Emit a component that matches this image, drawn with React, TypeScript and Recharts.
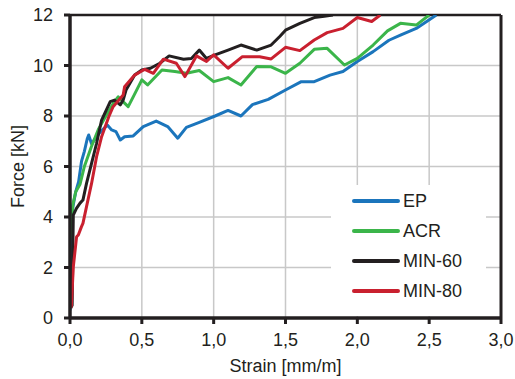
import { LineChart, Line, XAxis, YAxis, CartesianGrid, ReferenceLine } from "recharts";

const epStrain = [0, 0.005, 0.02, 0.04, 0.06, 0.08, 0.1, 0.12, 0.13, 0.15, 0.2, 0.26, 0.29, 0.32, 0.35, 0.38, 0.44, 0.51, 0.6, 0.68, 0.75, 0.81, 0.9, 1.01, 1.1, 1.19, 1.27, 1.38, 1.5, 1.61, 1.7, 1.81, 1.9, 2.0, 2.11, 2.22, 2.3, 2.41, 2.55];
const epForce = [0.3, 3.1, 4.4, 5.0, 5.4, 6.2, 6.6, 7.1, 7.25, 6.9, 7.3, 7.64, 7.45, 7.38, 7.05, 7.18, 7.21, 7.58, 7.8, 7.58, 7.12, 7.55, 7.75, 8.0, 8.22, 8.0, 8.45, 8.66, 9.03, 9.36, 9.36, 9.62, 9.76, 10.16, 10.55, 11.0, 11.2, 11.47, 12];

const acrStrain = [0, 0.02, 0.04, 0.07, 0.1, 0.15, 0.2, 0.25, 0.3, 0.335, 0.405, 0.44, 0.5, 0.54, 0.64, 0.73, 0.81, 0.9, 1.0, 1.1, 1.19, 1.3, 1.4, 1.5, 1.6, 1.7, 1.79, 1.91, 2.0, 2.11, 2.21, 2.3, 2.41, 2.5];
const acrForce = [3.1, 4.5, 5.0, 5.3, 6.0, 6.8, 7.5, 8.0, 8.5, 8.76, 8.37, 8.76, 9.43, 9.23, 9.82, 9.76, 9.69, 9.8, 9.36, 9.52, 9.23, 9.96, 9.95, 9.69, 10.09, 10.64, 10.68, 10.02, 10.28, 10.81, 11.37, 11.67, 11.6, 12];

const min60Strain = [0.005, 0.015, 0.023, 0.045, 0.07, 0.09, 0.115, 0.15, 0.185, 0.22, 0.28, 0.31, 0.35, 0.37, 0.39, 0.45, 0.5, 0.56, 0.625, 0.69, 0.79, 0.845, 0.9, 0.95, 1.01, 1.1, 1.19, 1.3, 1.4, 1.46, 1.5, 1.6, 1.7, 1.77, 1.83];
const min60Force = [0.4, 0.5, 4.08, 4.34, 4.55, 4.67, 5.33, 6.12, 6.92, 7.84, 8.57, 8.63, 8.44, 8.63, 9.03, 9.62, 9.82, 9.89, 10.09, 10.38, 10.25, 10.28, 10.61, 10.28, 10.42, 10.61, 10.81, 10.61, 10.81, 11.15, 11.4, 11.67, 11.9, 11.95, 12];

const min80Strain = [0.005, 0.01, 0.023, 0.046, 0.058, 0.08, 0.09, 0.115, 0.15, 0.185, 0.22, 0.27, 0.3, 0.37, 0.38, 0.45, 0.52, 0.58, 0.65, 0.74, 0.8, 0.88, 0.95, 1.0, 1.1, 1.2, 1.32, 1.4, 1.5, 1.6, 1.7, 1.79, 1.9, 2.0, 2.1, 2.16];
const min80Force = [0.4, 0.5, 2.03, 3.22, 3.29, 3.62, 3.75, 4.41, 5.33, 6.39, 7.18, 7.97, 8.37, 8.83, 9.16, 9.62, 9.85, 9.69, 10.25, 10.09, 9.56, 10.38, 10.16, 10.42, 9.89, 10.35, 10.35, 10.26, 10.72, 10.59, 11.01, 11.3, 11.47, 11.9, 11.74, 12];

const xTicks = [0, 0.5, 1, 1.5, 2, 2.5, 3];
const yTicks = [0, 2, 4, 6, 8, 10, 12];

const toPoints = (xs: number[], ys: number[]) => xs.map((x, i) => ({ x, y: ys[i] }));

const series = [
  { name: "EP", color: "#1b75bc", data: toPoints(epStrain, epForce) },
  { name: "ACR", color: "#3bb54a", data: toPoints(acrStrain, acrForce) },
  { name: "MIN-60", color: "#231f20", data: toPoints(min60Strain, min60Force) },
  { name: "MIN-80", color: "#c9202f", data: toPoints(min80Strain, min80Force) },
];

const ink = "#231f20";
const font = "Arial, 'Liberation Sans', sans-serif";

// legend box sits over the grid, bottom right of the plot
function LegendBox() {
  return (
    <div
      style={{
        position: "absolute",
        left: 331,
        top: 185,
        width: 155,
        height: 131,
        background: "#fff",
        paddingTop: 1,
        boxSizing: "border-box",
      }}
    >
      {series.map((s) => (
        <div key={s.name} style={{ display: "flex", alignItems: "center", height: 30 }}>
          <div style={{ marginLeft: 21, width: 48, height: 4, borderRadius: 2, background: s.color }} />
          <span style={{ marginLeft: 3, fontSize: 18, color: ink, fontFamily: font, lineHeight: "18px" }}>{s.name}</span>
        </div>
      ))}
    </div>
  );
}

export default function App() {
  return (
    <div style={{ position: "absolute", left: 0, top: 0, width: 515, height: 379, background: "#fff" }}>
      <LineChart width={515} height={379} margin={{ top: 15, right: 14, left: 0, bottom: 0 }}>
        <CartesianGrid stroke="#c8c8c8" strokeWidth={1.5} horizontalValues={yTicks} verticalValues={xTicks} />
        <XAxis
          type="number"
          dataKey="x"
          domain={[0, 3]}
          ticks={xTicks}
          height={61}
          allowDataOverflow
          tickFormatter={(v: number) => v.toFixed(1).replace(".", ",")}
          tick={{ fill: ink, fontSize: 18, fontFamily: font }}
          tickSize={6}
          tickMargin={9}
          axisLine={{ stroke: ink, strokeWidth: 3.5 }}
          tickLine={{ stroke: ink, strokeWidth: 3 }}
          label={{ value: "Strain [mm/m]", position: "insideBottom", offset: 7, fill: ink, fontSize: 18, fontFamily: font }}
        />
        <YAxis
          type="number"
          domain={[0, 12]}
          ticks={yTicks}
          width={70}
          allowDataOverflow
          tick={{ fill: ink, fontSize: 18, fontFamily: font }}
          tickSize={6}
          tickMargin={11}
          axisLine={{ stroke: ink, strokeWidth: 3.5 }}
          tickLine={{ stroke: ink, strokeWidth: 3 }}
          label={{ value: "Force [kN]", angle: -90, position: "insideLeft", offset: 18, fill: ink, fontSize: 18, fontFamily: font, style: { textAnchor: "middle" } }}
        />
        <ReferenceLine y={12} stroke={ink} strokeWidth={2.5} />
        <ReferenceLine x={3} stroke={ink} strokeWidth={3} />
        {series.map((s) => (
          <Line
            key={s.name}
            data={s.data}
            dataKey="y"
            name={s.name}
            type="linear"
            stroke={s.color}
            strokeWidth={3}
            strokeLinejoin="round"
            dot={false}
            isAnimationActive={false}
          />
        ))}
      </LineChart>
      <LegendBox />
    </div>
  );
}
